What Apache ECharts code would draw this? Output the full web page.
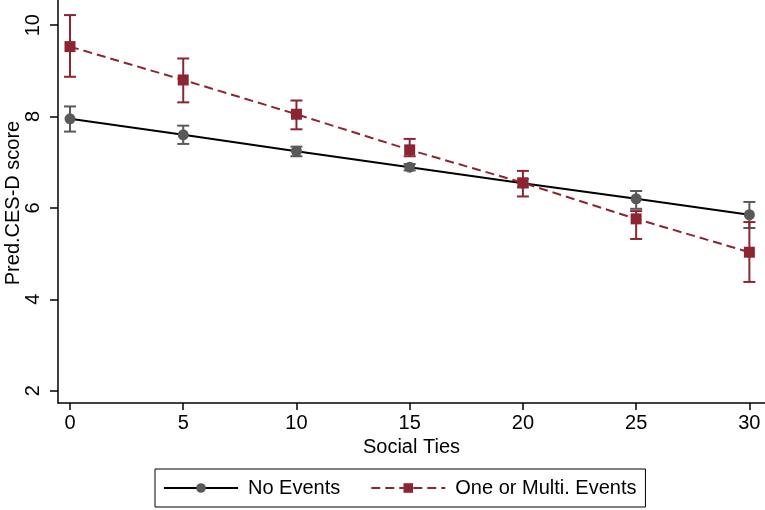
<!DOCTYPE html>
<html>
<head>
<meta charset="utf-8">
<script src="https://cdn.jsdelivr.net/npm/echarts@6/dist/echarts.min.js"></script>
<style>html,body{margin:0;padding:0;background:#fff;}#c{width:765px;height:510px;}</style>
</head>
<body>
<div id="c"></div>
<script>
var socialTies = [0, 5, 10, 15, 20, 25, 30];
var noEvents = [7.95, 7.60, 7.24, 6.89, 6.54, 6.20, 5.85];
var noEventsLow = [7.67, 7.40, 7.13, 6.82, 6.45, 5.98, 5.56];
var noEventsHigh = [8.22, 7.80, 7.34, 6.96, 6.63, 6.37, 6.13];
var multiEvents = [9.53, 8.80, 8.05, 7.27, 6.55, 5.76, 5.03];
var multiEventsLow = [8.87, 8.31, 7.72, 7.13, 6.25, 5.32, 4.38];
var multiEventsHigh = [10.22, 9.27, 8.35, 7.51, 6.81, 5.93, 5.69];
var xTicks = [0, 5, 10, 15, 20, 25, 30];
var yTicks = [2, 4, 6, 8, 10];
var yTitle = 'Pred.CES-D score';
var xTitle = 'Social Ties';

var RED = '#8c2532';
var GRAY = '#595959';
var FONT = 'Liberation Sans';

function pairs(xs, ys) { return xs.map(function (x, i) { return [x, ys[i]]; }); }
function errData(xs, lo, hi) { return xs.map(function (x, i) { return [x, lo[i], hi[i]]; }); }

function errRender(color) {
  return function (params, api) {
    var x = api.value(0);
    var p1 = api.coord([x, api.value(1)]);
    var p2 = api.coord([x, api.value(2)]);
    var hw = 6;
    var st = { stroke: color, lineWidth: 2 };
    return {
      type: 'group',
      children: [
        { type: 'line', shape: { x1: p1[0], y1: p1[1], x2: p2[0], y2: p2[1] }, style: st },
        { type: 'line', shape: { x1: p1[0] - hw, y1: p1[1], x2: p1[0] + hw, y2: p1[1] }, style: st },
        { type: 'line', shape: { x1: p2[0] - hw, y1: p2[1], x2: p2[0] + hw, y2: p2[1] }, style: st }
      ]
    };
  };
}

var chart = echarts.init(document.getElementById('c'), null, { renderer: 'canvas' });
chart.setOption({
  animation: false,
  backgroundColor: '#fff',
  textStyle: { fontFamily: FONT },
  grid: { left: 58, right: 0, top: 0, bottom: 107, containLabel: false, outerBoundsMode: 'none' },
  graphic: [{
    type: 'text', x: 13, y: 203, rotation: Math.PI / 2,
    style: { text: yTitle, fontFamily: FONT, fontSize: 20, fill: '#000', align: 'center', verticalAlign: 'middle' }
  }],
  legend: {
    data: ['No Events', 'One or Multi. Events'],
    left: 155, top: 469,
    itemWidth: 74, itemHeight: 12, itemGap: 30,
    padding: [9, 9, 9, 8],
    borderColor: '#000', borderWidth: 1,
    textStyle: { fontFamily: FONT, fontSize: 20, color: '#000', padding: [0, 0, 0, 5] }
  },
  xAxis: {
    type: 'value', min: -0.53, max: 30.69,
    name: xTitle, nameLocation: 'middle', nameGap: 33,
    nameTextStyle: { fontFamily: FONT, fontSize: 20, color: '#000' },
    axisLine: { show: true, onZero: false, lineStyle: { color: '#000', width: 1.5 } },
    axisTick: { show: true, length: 7, customValues: xTicks, lineStyle: { color: '#000', width: 1.5 } },
    axisLabel: { customValues: xTicks, fontFamily: FONT, fontSize: 20, color: '#000', margin: 10 },
    splitLine: { show: false }
  },
  yAxis: {
    type: 'value', min: 1.73, max: 10.55,
    axisLine: { show: true, onZero: false, lineStyle: { color: '#000', width: 1.5 } },
    axisTick: { show: true, length: 8, customValues: yTicks, lineStyle: { color: '#000', width: 1.5 } },
    axisLabel: { customValues: yTicks, rotate: 90, fontFamily: FONT, fontSize: 20, color: '#000', margin: 15 },
    splitLine: { show: false }
  },
  series: [
    { type: 'custom', name: 'err1', renderItem: errRender(GRAY), data: errData(socialTies, noEventsLow, noEventsHigh), encode: { x: 0, y: [1, 2] }, z: 1 },
    { type: 'custom', name: 'err2', renderItem: errRender(RED), data: errData(socialTies, multiEventsLow, multiEventsHigh), encode: { x: 0, y: [1, 2] }, z: 1 },
    {
      type: 'line', name: 'No Events', data: pairs(socialTies, noEvents), z: 3,
      symbol: 'circle', symbolSize: 11,
      lineStyle: { color: '#000', width: 2 },
      itemStyle: { color: GRAY, borderWidth: 0 }
    },
    {
      type: 'line', name: 'One or Multi. Events', data: pairs(socialTies, multiEvents), z: 4,
      symbol: 'rect', symbolSize: 11,
      lineStyle: { color: RED, width: 2, type: [9, 5] },
      itemStyle: { color: RED, borderWidth: 0 }
    }
  ]
});
</script>
</body>
</html>
